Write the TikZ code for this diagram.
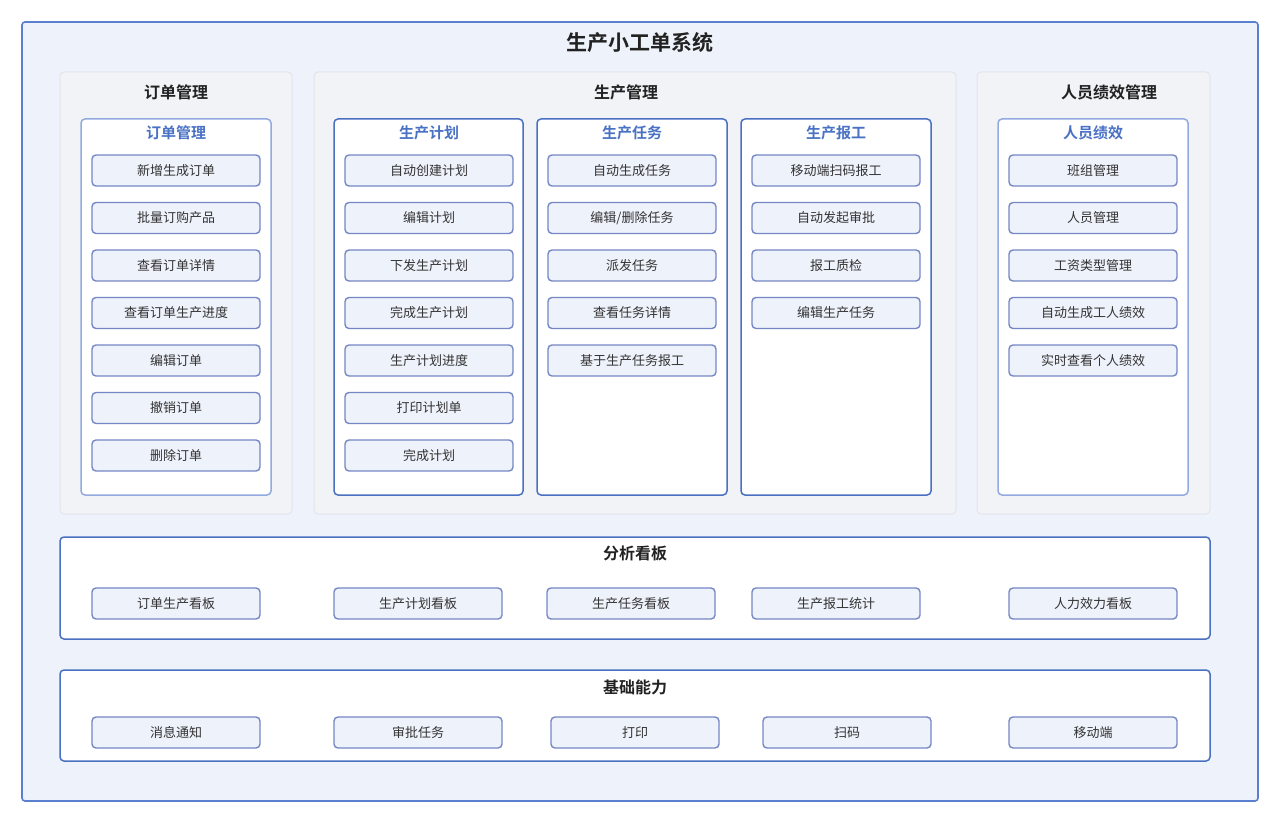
\documentclass[tikz,border=0pt]{standalone}
\usepackage{fontspec}
\setmainfont{Noto Sans CJK SC}
\newfontfamily\cjkb{Noto Sans CJK SC Bold}
\definecolor{outerbd}{HTML}{5B7FCF}
\definecolor{outerfill}{HTML}{EEF3FB}
\definecolor{grpfill}{HTML}{F2F3F7}
\definecolor{grpbd}{HTML}{E2E4EA}
\definecolor{innerbd}{HTML}{4A70C2}
\definecolor{innerlight}{HTML}{93AAE0}
\definecolor{itemfill}{HTML}{EEF2FB}
\definecolor{itembd}{HTML}{7587C4}
\definecolor{bluetxt}{HTML}{4A72C4}
\definecolor{darktxt}{HTML}{222222}
\definecolor{itemtxt}{HTML}{333333}
\begin{document}
\begin{tikzpicture}[x=1pt,y=-1pt,
  outerbox/.style={draw=outerbd,fill=outerfill,line width=1.6pt,rounded corners=3pt},
  grpbox/.style={draw=grpbd,fill=grpfill,line width=1pt,rounded corners=4pt},
  innerbox/.style={draw=innerbd,fill=white,line width=1.5pt,rounded corners=4pt},
  innerlt/.style={draw=innerlight,fill=white,line width=1.5pt,rounded corners=4pt},
  bandbox/.style={draw=innerbd,fill=white,line width=1.5pt,rounded corners=4pt},
  item/.style={draw=itembd,fill=itemfill,line width=1.4pt,rounded corners=4pt,minimum width=168pt,minimum height=31pt,inner sep=0pt,font=\fontsize{13}{15}\selectfont,text=itemtxt},
  maintitle/.style={font=\cjkb\fontsize{21}{25}\selectfont,text=darktxt},
  grptitle/.style={font=\cjkb\fontsize{16}{19}\selectfont,text=darktxt},
  intitle/.style={font=\cjkb\fontsize{15}{18}\selectfont,text=bluetxt}
]
\useasboundingbox (0,0) rectangle (1280,824);
\draw[outerbox] (22,22) rectangle (1258,801);
\node[maintitle] (title) at (640,43) {生产小工单系统};

% group panels
\draw[grpbox] (60,72) rectangle (292,514);
\draw[grpbox] (314,72) rectangle (956,514);
\draw[grpbox] (977,72) rectangle (1210,514);
\node[grptitle] (g1) at (176,92) {订单管理};
\node[grptitle] (g2) at (626,92) {生产管理};
\node[grptitle] (g3) at (1109,92) {人员绩效管理};

% inner boxes
\draw[innerlt] (81,119) rectangle (271,495);
\draw[innerbox] (334,119) rectangle (523,495);
\draw[innerbox] (537,119) rectangle (727,495);
\draw[innerbox] (741,119) rectangle (931,495);
\draw[innerlt] (998,119) rectangle (1188,495);
\node[intitle] (t1) at (176,133) {订单管理};
\node[intitle] (t2) at (429,133) {生产计划};
\node[intitle] (t3) at (632,133) {生产任务};
\node[intitle] (t4) at (836,133) {生产报工};
\node[intitle] (t5) at (1093,133) {人员绩效};

% order items
\node[item] (o1) at (176,170.5) {新增生成订单};
\node[item] (o2) at (176,218) {批量订购产品};
\node[item] (o3) at (176,265.5) {查看订单详情};
\node[item] (o4) at (176,313) {查看订单生产进度};
\node[item] (o5) at (176,360.5) {编辑订单};
\node[item] (o6) at (176,408) {撤销订单};
\node[item] (o7) at (176,455.5) {删除订单};

% plan items
\node[item] (p1) at (429,170.5) {自动创建计划};
\node[item] (p2) at (429,218) {编辑计划};
\node[item] (p3) at (429,265.5) {下发生产计划};
\node[item] (p4) at (429,313) {完成生产计划};
\node[item] (p5) at (429,360.5) {生产计划进度};
\node[item] (p6) at (429,408) {打印计划单};
\node[item] (p7) at (429,455.5) {完成计划};

% task items
\node[item] (k1) at (632,170.5) {自动生成任务};
\node[item] (k2) at (632,218) {编辑/删除任务};
\node[item] (k3) at (632,265.5) {派发任务};
\node[item] (k4) at (632,313) {查看任务详情};
\node[item] (k5) at (632,360.5) {基于生产任务报工};

% report items
\node[item] (r1) at (836,170.5) {移动端扫码报工};
\node[item] (r2) at (836,218) {自动发起审批};
\node[item] (r3) at (836,265.5) {报工质检};
\node[item] (r4) at (836,313) {编辑生产任务};

% personnel items
\node[item] (h1) at (1093,170.5) {班组管理};
\node[item] (h2) at (1093,218) {人员管理};
\node[item] (h3) at (1093,265.5) {工资类型管理};
\node[item] (h4) at (1093,313) {自动生成工人绩效};
\node[item] (h5) at (1093,360.5) {实时查看个人绩效};

% analysis band
\draw[bandbox] (60,537) rectangle (1210,639);
\node[grptitle] (a0) at (635,553) {分析看板};
\node[item] (a1) at (176,603.5) {订单生产看板};
\node[item] (a2) at (418,603.5) {生产计划看板};
\node[item] (a3) at (631,603.5) {生产任务看板};
\node[item] (a4) at (836,603.5) {生产报工统计};
\node[item] (a5) at (1093,603.5) {人力效力看板};

% base band
\draw[bandbox] (60,670) rectangle (1210,761);
\node[grptitle] (b0) at (635,687) {基础能力};
\node[item] (b1) at (176,732.5) {消息通知};
\node[item] (b2) at (418,732.5) {审批任务};
\node[item] (b3) at (635,732.5) {打印};
\node[item] (b4) at (847,732.5) {扫码};
\node[item] (b5) at (1093,732.5) {移动端};
\end{tikzpicture}
\end{document}
